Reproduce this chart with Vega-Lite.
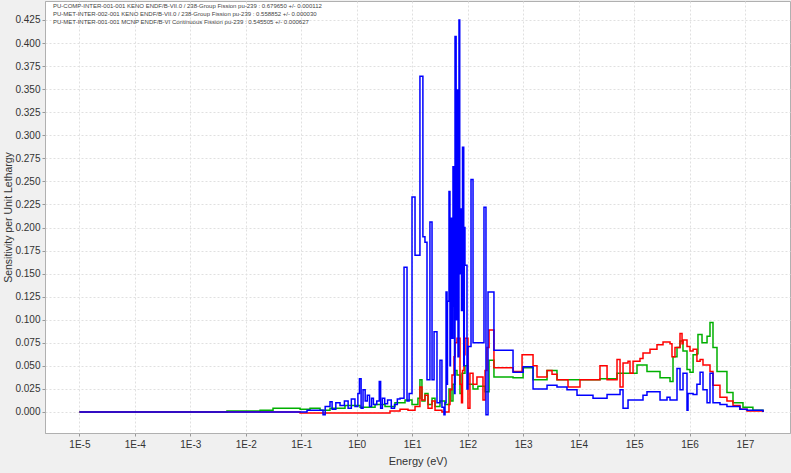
{
"$schema": "https://vega.github.io/schema/vega-lite/v6.json",
"width": 745, "height": 432,
"autosize": {"type": "none"},
"padding": {"left": 45, "top": 1, "right": 1, "bottom": 40},
"background": "#f0f0f0",
"config": {"view": {"fill": "white", "stroke": "#b0b0b0", "strokeWidth": 1}, "font": "Liberation Sans"},
"data": {"values": [
{"s":"A","E":1e-5,"v":0},{"s":"A","E":0.00458,"v":0.001},{"s":"A","E":0.0181,"v":0.002},{"s":"A","E":0.031,"v":0.004},{"s":"A","E":0.0953,"v":0.003},{"s":"A","E":0.144,"v":0.004},{"s":"A","E":0.218,"v":0.002},{"s":"A","E":0.33,"v":0.004},{"s":"A","E":0.615,"v":0.007},{"s":"A","E":1.15,"v":0.005},{"s":"A","E":2.14,"v":0.008},{"s":"A","E":3.24,"v":0.006},{"s":"A","E":4.9,"v":0.01},{"s":"A","E":7.43,"v":0.013},{"s":"A","E":9.93,"v":0.008},{"s":"A","E":12.7,"v":0.015},{"s":"A","E":13.8,"v":0.035},{"s":"A","E":15.0,"v":0.012},{"s":"A","E":17.0,"v":0.02},{"s":"A","E":19.3,"v":0.008},{"s":"A","E":22.8,"v":0.015},{"s":"A","E":25.8,"v":0.006},{"s":"A","E":31.7,"v":0.012},{"s":"A","E":39.1,"v":0.008},{"s":"A","E":46.1,"v":0.025},{"s":"A","E":50.1,"v":0.012},{"s":"A","E":54.4,"v":0.03},{"s":"A","E":59.2,"v":0.045},{"s":"A","E":64.3,"v":0.04},{"s":"A","E":72.8,"v":0.02},{"s":"A","E":79.1,"v":0.042},{"s":"A","E":89.5,"v":0.05},{"s":"A","E":101.4,"v":0.03},{"s":"A","E":125,"v":0.025},{"s":"A","E":153,"v":0.028},{"s":"A","E":206,"v":0.022},{"s":"A","E":243,"v":0.056},{"s":"A","E":298,"v":0.038},{"s":"A","E":658,"v":0.037},{"s":"A","E":1000,"v":0.048},{"s":"A","E":1510,"v":0.035},{"s":"A","E":2700,"v":0.045},{"s":"A","E":4080,"v":0.035},{"s":"A","E":24300,"v":0.036},{"s":"A","E":49300,"v":0.042},{"s":"A","E":113000,"v":0.051},{"s":"A","E":171000,"v":0.044},{"s":"A","E":294000,"v":0.037},{"s":"A","E":445000,"v":0.033},{"s":"A","E":504000,"v":0.06},{"s":"A","E":595000,"v":0.07},{"s":"A","E":674000,"v":0.077},{"s":"A","E":763000,"v":0.066},{"s":"A","E":901000,"v":0.046},{"s":"A","E":1020000,"v":0.043},{"s":"A","E":1160000,"v":0.062},{"s":"A","E":1360000,"v":0.063},{"s":"A","E":1420000,"v":0.084},{"s":"A","E":1680000,"v":0.075},{"s":"A","E":2070000,"v":0.082},{"s":"A","E":2340000,"v":0.097},{"s":"A","E":2650000,"v":0.07},{"s":"A","E":3130000,"v":0.044},{"s":"A","E":4730000,"v":0.021},{"s":"A","E":6080000,"v":0.01},{"s":"A","E":9200000,"v":0.005},{"s":"A","E":13900000,"v":0.002},{"s":"A","E":21100000,"v":0},
{"s":"B","E":1e-5,"v":0},{"s":"B","E":0.0953,"v":-0.001},{"s":"B","E":3.98,"v":0.001},{"s":"B","E":6.04,"v":0.003},{"s":"B","E":8.41,"v":0.002},{"s":"B","E":11.25,"v":0.006},{"s":"B","E":13.8,"v":0.027},{"s":"B","E":15.0,"v":0.013},{"s":"B","E":17.0,"v":0.018},{"s":"B","E":19.3,"v":0.004},{"s":"B","E":22.8,"v":0.012},{"s":"B","E":25.8,"v":0.002},{"s":"B","E":34.4,"v":0.0},{"s":"B","E":46.1,"v":0.008},{"s":"B","E":48.1,"v":0.024},{"s":"B","E":52.2,"v":0.04},{"s":"B","E":56.8,"v":0.06},{"s":"B","E":59.2,"v":0.075},{"s":"B","E":64.3,"v":0.08},{"s":"B","E":72.8,"v":0.03},{"s":"B","E":77.5,"v":0.01},{"s":"B","E":80.8,"v":0.045},{"s":"B","E":85.9,"v":0.062},{"s":"B","E":89.5,"v":0.08},{"s":"B","E":101.4,"v":0.004},{"s":"B","E":110,"v":0.042},{"s":"B","E":125,"v":0.03},{"s":"B","E":147,"v":0.038},{"s":"B","E":189,"v":0.013},{"s":"B","E":206,"v":0.045},{"s":"B","E":223,"v":0.07},{"s":"B","E":243,"v":0.089},{"s":"B","E":298,"v":0.048},{"s":"B","E":658,"v":0.044},{"s":"B","E":957,"v":0.062},{"s":"B","E":1510,"v":0.05},{"s":"B","E":1780,"v":0.038},{"s":"B","E":2700,"v":0.045},{"s":"B","E":3320,"v":0.041},{"s":"B","E":4080,"v":0.035},{"s":"B","E":6450,"v":0.027},{"s":"B","E":10600,"v":0.035},{"s":"B","E":24300,"v":0.05},{"s":"B","E":32600,"v":0.035},{"s":"B","E":49300,"v":0.057},{"s":"B","E":55900,"v":0.027},{"s":"B","E":63300,"v":0.053},{"s":"B","E":77900,"v":0.055},{"s":"B","E":84500,"v":0.042},{"s":"B","E":95900,"v":0.055},{"s":"B","E":128000,"v":0.058},{"s":"B","E":145000,"v":0.064},{"s":"B","E":194000,"v":0.068},{"s":"B","E":259000,"v":0.073},{"s":"B","E":333000,"v":0.076},{"s":"B","E":445000,"v":0.074},{"s":"B","E":483000,"v":0.06},{"s":"B","E":547000,"v":0.07},{"s":"B","E":674000,"v":0.085},{"s":"B","E":733000,"v":0.074},{"s":"B","E":763000,"v":0.078},{"s":"B","E":901000,"v":0.071},{"s":"B","E":1020000,"v":0.066},{"s":"B","E":1160000,"v":0.068},{"s":"B","E":1360000,"v":0.055},{"s":"B","E":1550000,"v":0.057},{"s":"B","E":1750000,"v":0.051},{"s":"B","E":2340000,"v":0.044},{"s":"B","E":2650000,"v":0.029},{"s":"B","E":3540000,"v":0.016},{"s":"B","E":4730000,"v":0.012},{"s":"B","E":6080000,"v":0.007},{"s":"B","E":8110000,"v":0.003},{"s":"B","E":10900000,"v":0.001},{"s":"B","E":21100000,"v":0},
{"s":"C","E":1e-5,"v":0},{"s":"C","E":0.127,"v":0.002},{"s":"C","E":0.247,"v":-0.003},{"s":"C","E":0.27,"v":0.006},{"s":"C","E":0.33,"v":0.011},{"s":"C","E":0.36,"v":0.003},{"s":"C","E":0.42,"v":0.01},{"s":"C","E":0.5,"v":0.007},{"s":"C","E":0.6,"v":0.012},{"s":"C","E":0.7,"v":0.004},{"s":"C","E":0.8,"v":0.014},{"s":"C","E":0.93,"v":0.006},{"s":"C","E":1.05,"v":0.02},{"s":"C","E":1.12,"v":0.036},{"s":"C","E":1.2,"v":0.004},{"s":"C","E":1.3,"v":0.024},{"s":"C","E":1.42,"v":0.012},{"s":"C","E":1.55,"v":0.018},{"s":"C","E":1.7,"v":0.006},{"s":"C","E":1.85,"v":0.015},{"s":"C","E":2.0,"v":0.008},{"s":"C","E":2.3,"v":0.012},{"s":"C","E":2.55,"v":0.033},{"s":"C","E":2.7,"v":0.004},{"s":"C","E":2.9,"v":0.015},{"s":"C","E":3.2,"v":0.009},{"s":"C","E":3.6,"v":0.013},{"s":"C","E":4.2,"v":0.004},{"s":"C","E":4.8,"v":0.008},{"s":"C","E":5.4,"v":0.014},{"s":"C","E":6.04,"v":0.015},{"s":"C","E":7.13,"v":0.157},{"s":"C","E":8.07,"v":0.012},{"s":"C","E":8.8,"v":0.02},{"s":"C","E":9.93,"v":0.233},{"s":"C","E":11.25,"v":0.17},{"s":"C","E":13.8,"v":0.364},{"s":"C","E":15.6,"v":0.19},{"s":"C","E":17.0,"v":0.184},{"s":"C","E":18.5,"v":0.035},{"s":"C","E":20.9,"v":0.206},{"s":"C","E":22.8,"v":0.035},{"s":"C","E":24.8,"v":0.087},{"s":"C","E":28.0,"v":0.01},{"s":"C","E":31.7,"v":0.056},{"s":"C","E":34.4,"v":0.005},{"s":"C","E":37.4,"v":-0.003},{"s":"C","E":39.1,"v":0.01},{"s":"C","E":40.8,"v":0.13},{"s":"C","E":42.5,"v":0.03},{"s":"C","E":43.3,"v":0.12},{"s":"C","E":46.1,"v":0.239},{"s":"C","E":48.0,"v":0.05},{"s":"C","E":49.0,"v":0.21},{"s":"C","E":52.0,"v":0.08},{"s":"C","E":54.4,"v":0.266},{"s":"C","E":56.8,"v":0.115},{"s":"C","E":58.0,"v":0.02},{"s":"C","E":59.2,"v":0.407},{"s":"C","E":62.0,"v":0.1},{"s":"C","E":64.3,"v":0.349},{"s":"C","E":67.0,"v":0.06},{"s":"C","E":69.8,"v":0.425},{"s":"C","E":72.0,"v":0.15},{"s":"C","E":74.3,"v":0.22},{"s":"C","E":77.5,"v":0.11},{"s":"C","E":80.8,"v":0.287},{"s":"C","E":85.0,"v":0.05},{"s":"C","E":87.0,"v":0.2},{"s":"C","E":89.5,"v":0.159},{"s":"C","E":97.3,"v":0.025},{"s":"C","E":101.4,"v":0.071},{"s":"C","E":115,"v":0.252},{"s":"C","E":125,"v":0.075},{"s":"C","E":197,"v":0.222},{"s":"C","E":214,"v":-0.003},{"s":"C","E":233,"v":0.13},{"s":"C","E":298,"v":0.067},{"s":"C","E":658,"v":0.043},{"s":"C","E":1000,"v":0.049},{"s":"C","E":1510,"v":0.025},{"s":"C","E":2700,"v":0.029},{"s":"C","E":4080,"v":0.027},{"s":"C","E":6180,"v":0.024},{"s":"C","E":9370,"v":0.018},{"s":"C","E":18200,"v":0.015},{"s":"C","E":32600,"v":0.019},{"s":"C","E":55900,"v":0.024},{"s":"C","E":63300,"v":0.004},{"s":"C","E":77900,"v":0.013},{"s":"C","E":145000,"v":0.018},{"s":"C","E":171000,"v":0.022},{"s":"C","E":294000,"v":0.013},{"s":"C","E":393000,"v":0.016},{"s":"C","E":445000,"v":0.013},{"s":"C","E":595000,"v":0.047},{"s":"C","E":674000,"v":0.024},{"s":"C","E":763000,"v":0.042},{"s":"C","E":901000,"v":0.002},{"s":"C","E":940000,"v":0.02},{"s":"C","E":1160000,"v":0.019},{"s":"C","E":1360000,"v":0.03},{"s":"C","E":1550000,"v":0.043},{"s":"C","E":1750000,"v":0.024},{"s":"C","E":2070000,"v":0.01},{"s":"C","E":2340000,"v":0.042},{"s":"C","E":2650000,"v":0.01},{"s":"C","E":3540000,"v":0.008},{"s":"C","E":4730000,"v":0.006},{"s":"C","E":8110000,"v":0.003},{"s":"C","E":10900000,"v":0.002},{"s":"C","E":21100000,"v":0}
]},
"mark": {"type": "line", "interpolate": "step-after", "strokeWidth": 1.5, "clip": true},
"encoding": {
 "x": {"field": "E", "type": "quantitative",
   "scale": {"type": "log", "domain": [2.4e-6, 6.48e7], "nice": false},
   "axis": {"title": "Energy (eV)", "values": [1e-5,1e-4,1e-3,1e-2,1e-1,1,10,100,1000,10000,100000,1000000,10000000],
     "labelExpr": "'1E' + round(log(datum.value)/LN10)",
     "labelFontSize": 10, "labelColor": "#333", "titleFontSize": 11, "titleFontWeight": "normal", "titleColor": "#333",
     "grid": true, "gridDash": [2,2], "gridColor": "#e0e0e0", "tickColor": "#999", "tickSize": 3, "domainColor": "#b0b0b0",
     "labelPadding": 3, "titlePadding": 6}},
 "y": {"field": "v", "type": "quantitative",
   "scale": {"domain": [-0.0228, 0.4456], "nice": false, "zero": false},
   "axis": {"title": "Sensitivity per Unit Lethargy", "values": [0,0.025,0.05,0.075,0.1,0.125,0.15,0.175,0.2,0.225,0.25,0.275,0.3,0.325,0.35,0.375,0.4,0.425],
     "format": ".3f", "labelFontSize": 10, "labelColor": "#333", "titleFontSize": 10.5, "titleFontWeight": "normal", "titleColor": "#333",
     "grid": true, "gridDash": [2,2], "gridColor": "#e0e0e0", "tickColor": "#999", "tickSize": 3, "domainColor": "#b0b0b0",
     "labelPadding": 2, "titlePadding": 1}},
 "color": {"field": "s", "type": "nominal",
   "scale": {"domain": ["A","B","C"], "range": ["#00b000", "#ff0000", "#0000ff"]},
   "legend": {"orient": "none", "legendX": 2, "legendY": 2, "title": null, "symbolSize": 0, "symbolStrokeWidth": 0, "labelOffset": 0,
     "labelFontSize": 6, "labelColor": "#444", "rowPadding": 2, "padding": 0,
     "labelLimit": 600,
     "labelExpr": "datum.label == 'A' ? 'PU-COMP-INTER-001-001 KENO ENDF/B-VII.0 / 238-Group Fission pu-239 : 0.679650 +/- 0.000112' : datum.label == 'B' ? 'PU-MET-INTER-002-001 KENO ENDF/B-VII.0 / 238-Group Fission pu-239 : 0.558852 +/- 0.000030' : 'PU-MET-INTER-001-001 MCNP ENDF/B-VI Continuous Fission pu-239 : 0.545505 +/- 0.000627'"}}
}
}
